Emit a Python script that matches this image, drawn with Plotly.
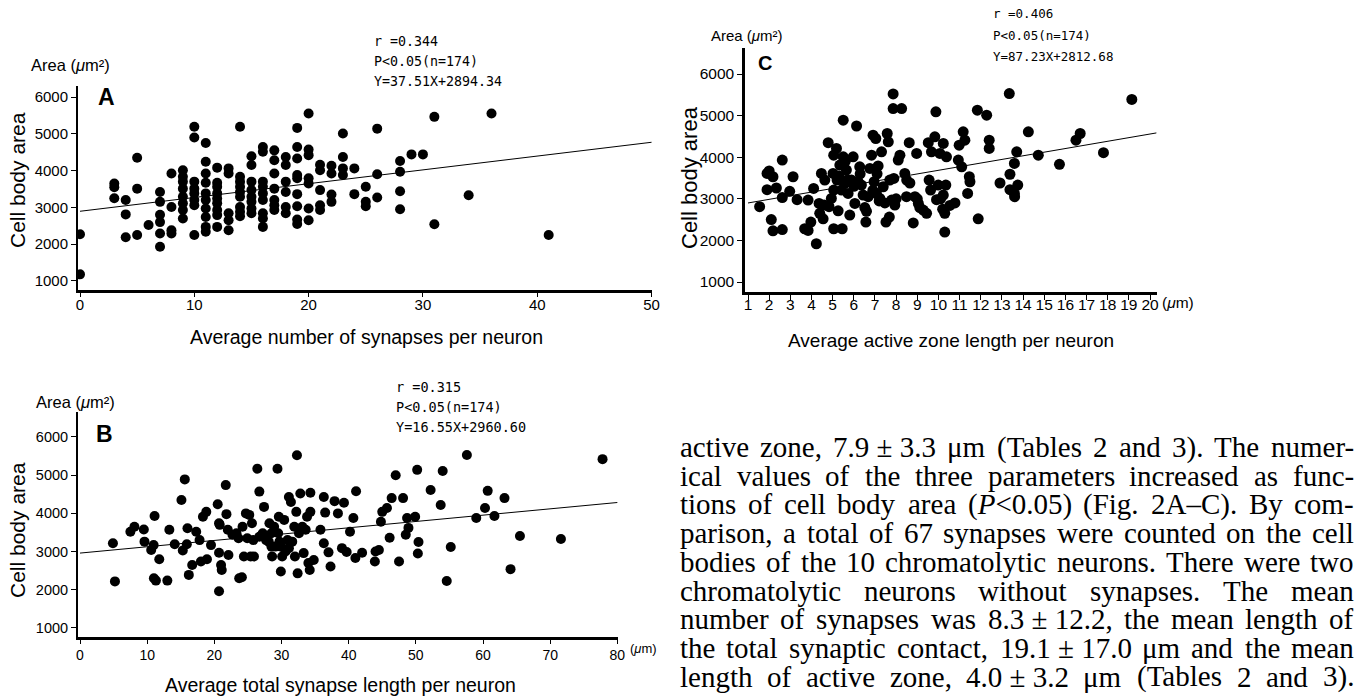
import re
import plotly.graph_objects as go

W, H = 1359, 696

# ---------------- Panel A: number of synapses vs cell body area ----------------
a_x = [0, 0,
       3, 3, 3,
       4, 4, 4,
       5, 5, 5,
       6,
       7, 7, 7, 7, 7, 7,
       8, 8, 8, 8,
       9, 9, 9, 9, 9, 9, 9, 9,
       10, 10, 10, 10, 10, 10, 10, 10,
       11, 11, 11, 11, 11, 11, 11, 11, 11, 11,
       12, 12, 12, 12, 12, 12, 12, 12, 12,
       13, 13, 13, 13, 13,
       14, 14, 14, 14, 14, 14, 14, 14, 14,
       15, 15, 15, 15, 15, 15, 15, 15,
       16, 16, 16, 16, 16, 16, 16, 16, 16,
       17, 17, 17, 17, 17, 17, 17,
       18, 18, 18, 18, 18, 18,
       19, 19, 19, 19, 19, 19, 19, 19, 19,
       20, 20, 20, 20, 20, 20, 20,
       21, 21, 21, 21, 21,
       22, 22, 22, 22,
       23, 23, 23, 23,
       24, 24,
       25, 25, 25,
       26, 26, 26,
       28, 28, 28, 28,
       29, 30, 31, 31, 34, 36, 41]
a_y = [2270, 1180,
       3650, 3550, 3250,
       3200, 2810, 2190,
       4350, 3510, 2250,
       2520,
       3420, 3150, 2800, 2600, 2290, 1930,
       3920, 3010, 2380, 2290,
       4010, 3830, 3700, 3510, 3290, 3110, 2930, 2700,
       5190, 4900, 3700, 3510, 3380, 3200, 3060, 2250,
       4750, 4240, 3920, 3670, 3380, 3200, 2970, 2740, 2470, 2340,
       4080, 3670, 3560, 3380, 3240, 3110, 2930, 2790, 2470,
       4060, 3920, 2840, 2650, 2380,
       5190, 3830, 3700, 3560, 3420, 3290, 3010, 2880, 2760,
       4390, 4150, 3700, 3470, 3290, 3150, 2970, 2840,
       4640, 4510, 3700, 3560, 3380, 3200, 2840, 2700, 2470,
       4550, 4280, 3920, 3510, 3200, 3060, 2930,
       4370, 4150, 3700, 3420, 3010, 2840,
       5160, 4640, 4330, 3880, 3790, 3360, 3030, 2670, 2550,
       5550, 4570, 4420, 3790, 3650, 2970, 2650,
       4160, 4010, 3470, 3060, 2930,
       4130, 3920, 3350, 3150,
       5010, 4370, 4060, 3880,
       4060, 3360,
       3560, 3150, 3030,
       5140, 3900, 3270,
       4260, 3970, 3440, 2950,
       4440, 4440, 5460, 2540, 3330, 5550, 2250]
a_fit_coef = [37.51, 2894.34]
a_fit_x = [0, 50]
a_xticks = [0, 10, 20, 30, 40, 50]
a_stats = ["r =0.344", "P&lt;0.05(n=174)", "Y=37.51X+2894.34"]

# ---------------- Panel B: total synapse length vs cell body area ----------------
b_x = [4.9, 5.2, 7.5, 8.1, 9.5, 9.6, 10.6, 10.96, 11.1, 11.0, 11.3, 11.8, 13.0, 13.3, 14.1,
       15.1, 15.3, 15.6, 15.9, 16.0, 16.2, 16.7, 17.3, 17.8, 18.0, 18.3, 18.8, 18.9, 19.5,
       20.5, 20.7, 20.7, 20.8, 21.0, 21.1, 20.7, 21.7, 21.8, 22.1, 22.0, 22.7, 23.3, 23.6,
       23.7, 24.1, 24.2, 24.4, 24.7, 24.9, 25.2, 25.4, 25.6, 25.8, 25.9, 26.4, 26.7, 26.7,
       27.2, 27.4, 27.7, 28.1, 28.2, 28.5, 28.5, 28.6, 28.9, 29.1, 29.4, 29.5, 29.6, 29.7,
       29.9, 29.9, 30.1, 30.4, 30.6, 30.9, 31.1, 31.1, 31.4, 31.6, 31.9, 32.0, 32.2, 32.3,
       32.4, 32.6, 32.8, 33.1, 33.3, 33.6, 33.8, 34.0, 34.2, 34.3, 34.3, 34.8, 35.8, 36.3,
       36.3, 36.5, 37.0, 37.3,
       37.9, 38.4, 39.3, 39.0, 39.7, 40.2, 40.7, 41.0, 41.1, 42.0, 43.9, 44.0, 44.5, 44.8,
       45.0, 45.7, 46.1, 46.4, 47.0, 47.5, 48.1, 48.5, 48.7, 48.9, 49.9, 50.2, 50.3, 50.4,
       52.2, 53.7, 54.0, 54.6, 55.2, 57.6, 59.0, 60.3, 60.7, 61.7, 63.2, 64.1, 65.5, 71.6,
       77.8]
b_y = [3220, 2220, 3520, 3650, 3580, 3260, 3040, 3170, 3930, 2300, 2240, 2800, 2240, 3570, 3190,
       4350, 3030, 4890, 3190, 3610, 2390, 2650, 3520, 3300, 2740, 3910, 4040, 2800, 3170,
       4240, 3740, 2970, 3700, 2650, 2520, 1960, 4740, 3980, 2910, 3570, 3440, 3480, 3350,
       2300, 2330, 3650, 2870, 4000, 3350, 3960, 2870, 3740, 3300, 2870, 5170, 4570, 3390,
       3480, 4170, 3300, 3260, 3740, 3480, 3130, 2870, 3650, 3130, 5170, 3480, 3910, 3260,
       3130, 2480, 2870, 3830, 3000, 3300, 4430, 3090, 4300, 3260, 3650, 2870, 4040, 5520,
       2430, 3480, 4520, 3650, 2960, 3570, 3910, 2700, 2520, 4540, 4040, 2780, 3570, 3220,
       4430, 4020, 2980, 2610,
       4320, 4000, 4280, 3090, 2990, 3520, 3880, 2830, 4580, 2970, 2740, 3000, 3040, 3780,
       4040, 4140, 3360, 4400, 5000, 2740, 4400, 3440, 3880, 3620, 3910, 5140, 2950, 3250,
       4610, 4220, 5110, 2230, 3120, 5530, 3880, 4140, 4590, 3930, 4400, 2540, 3410, 3330,
       5420]
b_fit_coef = [16.55, 2960.60]
b_fit_x = [0, 80]
b_xticks = [0, 10, 20, 30, 40, 50, 60, 70, 80]
b_stats = ["r =0.315", "P&lt;0.05(n=174)", "Y=16.55X+2960.60"]

# ---------------- Panel C: active zone length vs cell body area ----------------
c_x = [1.55, 1.9, 2.0, 1.9, 2.18, 2.34, 2.1, 2.18, 2.62, 2.62, 2.62, 2.97, 3.13, 3.32, 3.68,
       3.84, 3.84, 3.97, 4.1, 4.23, 4.36, 4.39, 4.47, 4.55, 4.63, 4.79, 4.83, 4.94, 5.02,
       5.05, 5.05, 5.05, 5.18, 5.21, 5.26, 5.34, 5.42, 5.45, 5.5, 5.5, 5.57, 5.65, 5.73,
       5.81, 5.89, 5.97, 6.05, 6.13, 6.2, 6.28, 6.36, 6.44, 6.52, 6.57, 6.68, 6.76, 6.84,
       6.91, 6.96, 7.04, 7.07, 7.15, 7.23, 7.31, 7.39, 7.47, 7.52, 7.58, 7.63, 7.68, 7.79,
       7.86, 7.86, 7.89, 7.94, 8.1, 8.18, 8.26, 8.41, 8.49, 8.62, 8.65, 8.81, 8.89, 8.97,
       9.05, 9.12, 9.28, 9.44, 9.52, 9.56, 9.63, 9.67, 9.83, 9.88, 9.91, 9.99, 10.07, 10.23,
       10.23, 10.3, 10.3, 10.38, 10.35, 10.54, 10.78, 10.94, 10.98, 11.1, 11.17, 11.25, 11.38,
       11.46, 11.49, 11.84, 11.88, 12.28, 12.4, 12.4, 12.91, 13.35, 13.38, 13.38, 13.59, 13.59,
       13.7, 13.75, 14.25, 14.72, 15.72, 16.5, 16.7, 17.8, 19.14,
       5.3, 5.6, 6.0, 6.3, 6.6, 7.1, 7.2, 7.7, 8.0, 8.5, 9.0, 10.1, 10.2, 4.6, 5.7, 6.9, 13.6]
c_y = [2810, 3610, 3670, 3220, 3530, 3260, 2500, 2230, 3930, 3030, 2260, 3180, 3530, 2980, 2280,
       2970, 2240, 2440, 3250, 1920, 2890, 2650, 3610, 2520, 3450, 4350, 2810, 3010, 3610,
       4050, 3210, 2280, 4210, 3450, 2710, 3810, 3210, 2280, 4890, 4010, 3370, 3690, 3130,
       2610, 3450, 4010, 2890, 4750, 3410, 3770, 3330, 3090, 2790, 2440, 3050, 3730, 4050,
       4530, 3410, 4450, 3130, 3790, 3010, 4130, 3290, 2900, 2440, 4570, 4370, 2560, 2970,
       5520, 5170, 3490, 2850, 3930, 4050, 5170, 3610, 3050, 4350, 3380, 2420, 3050, 4090,
       2890, 2790, 2730, 2650, 4350, 3450, 3210, 4130, 4490, 5090, 2980, 3330, 4090, 4330,
       3090, 2650, 2200, 4010, 3330, 2840, 2900, 3930, 4290, 3770, 4610, 4410, 3130,
       3530, 3410, 5130, 2520, 5010, 4410, 4210, 3380, 5530, 3590, 3220, 3130, 3850,
       4130, 3330, 4610, 4050, 3830, 4410, 4570, 4110, 5390,
       3550, 3900, 3300, 3600, 2700, 3600, 2950, 3450, 3000, 3450, 3000, 3000, 2750, 2850,
       3450, 3200, 3050]
c_fit_coef = [87.23, 2812.68]
c_fit_x = [1, 20.3]
c_xticks = list(range(1, 21))
c_stats = ["r =0.406", "P&lt;0.05(n=174)", "Y=87.23X+2812.68"]

y_ticks = [1000, 2000, 3000, 4000, 5000, 6000]

# ---------------- body text on the right ----------------
body_lines = [
    "active zone, 7.9\u00a0±\u00a03.3 μm (Tables 2 and 3). The numer-",
    "ical values of the three parameters increased as func-",
    "tions of cell body area (<i>P</i>&lt;0.05) (Fig. 2A–C). By com-",
    "parison, a total of 67 synapses were counted on the cell",
    "bodies of the 10 chromatolytic neurons. There were two",
    "chromatolytic neurons without synapses. The mean",
    "number of synapses was 8.3\u00a0±\u00a012.2, the mean length of",
    "the total synaptic contact, 19.1\u00a0±\u00a017.0 μm and the mean",
    "length of active zone, 4.0\u00a0±\u00a03.2 μm (Tables 2 and 3).",
]

SANS = "Liberation Sans, Arial, sans-serif"
NARROW = "Liberation Sans Narrow, Arial Narrow, Liberation Sans, sans-serif"
MONO = "DejaVu Sans Mono, Liberation Mono, monospace"
SERIF = "Liberation Serif, Times New Roman, serif"


def px(x):
    return x / W


def py(y):
    return 1 - y / H


fig = go.Figure()

panels = [
    ("x", "y", a_x, a_y, a_fit_coef, a_fit_x, 10),
    ("x2", "y2", c_x, c_y, c_fit_coef, c_fit_x, 11),
    ("x3", "y3", b_x, b_y, b_fit_coef, b_fit_x, 10),
]
for xa, ya, xs, ys, coef, fx, msize in panels:
    fig.add_trace(go.Scatter(x=fx, y=[coef[0] * v + coef[1] for v in fx], mode="lines",
                             line=dict(color="black", width=1), xaxis=xa, yaxis=ya,
                             hoverinfo="skip"))
    fig.add_trace(go.Scatter(x=xs, y=ys, mode="markers",
                             marker=dict(size=msize, color="black", line=dict(width=0)),
                             xaxis=xa, yaxis=ya))


def axis(domain, rng, tickvals, font, lw, ticklen=4, anchor=None, standoff=0):
    d = dict(domain=domain, range=rng, tickvals=tickvals,
             ticktext=[str(v) for v in tickvals],
             showline=True, linecolor="black", linewidth=lw,
             ticks="outside", ticklen=ticklen, tickwidth=1, tickcolor="black",
             showgrid=False, zeroline=False, tickfont=font,
             automargin=False, fixedrange=True, ticklabelstandoff=standoff)
    if anchor:
        d["anchor"] = anchor
    return d


tick_a = dict(family=SANS, size=15, color="black")
tick_c = dict(family=NARROW, size=15.5, color="black")
tick_b = dict(family=SANS, size=14.5, color="black")

fig.update_layout(
    width=W, height=H, template="none",
    margin=dict(l=0, r=0, t=0, b=0),
    paper_bgcolor="white", plot_bgcolor="rgba(0,0,0,0)",
    showlegend=False, hovermode=False,
    xaxis=axis([px(78), px(652)], [-0.175, 50.04], a_xticks, tick_a, 2.5, 4, "y", -5),
    yaxis=axis([py(290), py(86)], [755, 6299], y_ticks, tick_a, 2, 5, "x"),
    xaxis2=axis([px(745), px(1157)], [0.858, 20.33], c_xticks, tick_c, 2.5, 5, "y2", -8),
    yaxis2=axis([py(292), py(48)], [760, 6625], y_ticks, tick_c, 2.5, 5, "x2"),
    xaxis3=axis([px(78), px(618)], [-0.3, 80.1], b_xticks, dict(family=SANS, size=14, color="black"), 2.5, 4, "y3", -1),
    yaxis3=axis([py(637), py(412)], [764, 6654], y_ticks, tick_b, 2, 5, "x3"),
)


def note(x, y, text, size, family=SANS, xanchor="center", angle=0, bold=False):
    if bold:
        text = "<b>" + text + "</b>"
    fig.add_annotation(x=px(x), y=py(y), xref="paper", yref="paper", text=text,
                       showarrow=False, xanchor=xanchor, yanchor="middle",
                       textangle=angle, borderpad=0,
                       font=dict(family=family, size=size, color="black"))


# panel A labels
note(70, 65, "Area (<i>μ</i>m²)", 16.5)
note(106, 97, "A", 23, bold=True)
note(18, 180, "Cell body area", 21, angle=-90)
note(367, 337, "Average number of synapses per neuron", 19.5)
for i, s in enumerate(a_stats):
    note(373, 42 + i * 19.5, s, 13.3, MONO, "left")

# panel C labels
note(747, 35, "Area (<i>μ</i>m²)", 15)
note(765, 63, "C", 20, bold=True)
note(689, 178, "Cell body area", 22, angle=-90)
note(951, 340, "Average active zone length per neuron", 19)
note(1161, 303, "(<i>μ</i>m)", 15.5, NARROW, "left")
for i, s in enumerate(c_stats):
    note(992, 14 + i * 21, s, 12.5, MONO, "left")

# panel B labels
note(75, 402, "Area (<i>μ</i>m²)", 16.5)
note(104, 434, "B", 23, bold=True)
note(17, 530, "Cell body area", 21, angle=-90)
note(340, 685, "Average total synapse length per neuron", 19.5)
note(629, 648, "(<i>μ</i>m)", 13, SANS, "left")
for i, s in enumerate(b_stats):
    note(395, 387 + i * 20, s, 13.5, MONO, "left")

# ---------------- justified body text ----------------
TW = {' ': 250, '\u00a0': 250, '(': 333, ')': 333, ',': 250, '-': 333, '.': 250,
      '<': 564, '=': 564, '±': 564, 'μ': 500, '–': 500,
      'A': 722, 'B': 667, 'C': 667, 'F': 556, 'P': 611, 'T': 611,
      'a': 444, 'b': 500, 'c': 444, 'd': 500, 'e': 444, 'f': 333, 'g': 500, 'h': 500,
      'i': 278, 'j': 278, 'k': 500, 'l': 278, 'm': 778, 'n': 500, 'o': 500, 'p': 500,
      'q': 500, 'r': 333, 's': 389, 't': 278, 'u': 500, 'v': 500, 'w': 722, 'x': 500,
      'y': 500, 'z': 444}


def text_width(tok, fs):
    plain = re.sub(r"<[^>]+>", "", tok).replace("&lt;", "<")
    return sum(TW.get(ch, 500) for ch in plain) * fs / 1000.0


FS = 29
X0, X1 = 680, 1354
Y0, DY = 447, 28.7
for i, line in enumerate(body_lines):
    toks = line.split(" ")
    widths = [text_width(t, FS) for t in toks]
    gap = (X1 - X0 - sum(widths)) / (len(toks) - 1)
    x = X0
    for t, w in zip(toks, widths):
        note(x + w / 2, Y0 + i * DY, t, FS, SERIF)
        x += w + gap

fig.write_html("out.html", config={"displayModeBar": False},
               post_script="document.body.style.margin='0px';document.body.style.overflow='hidden';")
